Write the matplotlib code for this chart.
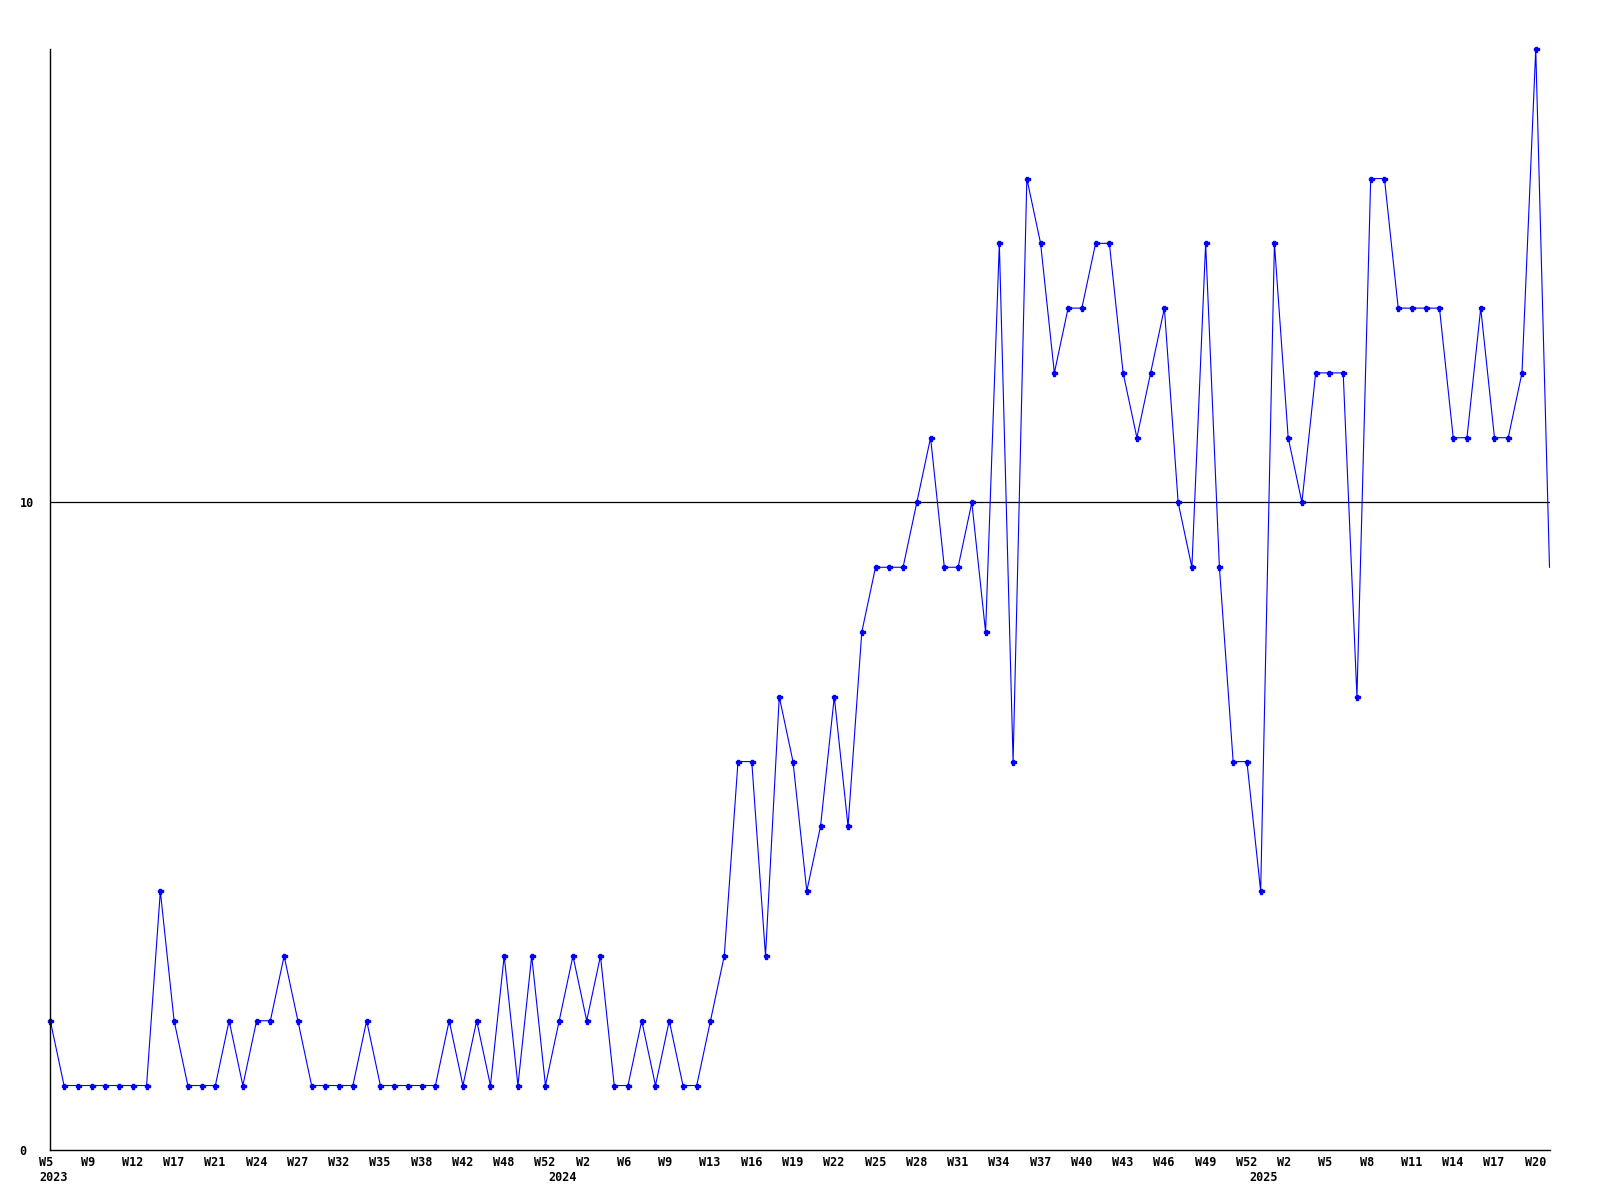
import matplotlib
matplotlib.use("Agg")
import matplotlib.pyplot as plt
from matplotlib.transforms import ScaledTranslation

# weekly counts, one point per week present in the data
values = [2, 1, 1, 1, 1, 1, 1, 1, 4, 2,
          1, 1, 1, 2, 1, 2, 2, 3, 2, 1,
          1, 1, 1, 2, 1, 1, 1, 1, 1, 2,
          1, 2, 1, 3, 1, 3, 1, 2, 3, 2,
          3, 1, 1, 2, 1, 2, 1, 1, 2, 3,
          6, 6, 3, 7, 6, 4, 5, 7, 5, 8,
          9, 9, 9, 10, 11, 9, 9, 10, 8, 14,
          6, 15, 14, 12, 13, 13, 14, 14, 12, 11,
          12, 13, 10, 9, 14, 9, 6, 6, 4, 14,
          11, 10, 12, 12, 12, 7, 15, 15, 13, 13,
          13, 13, 11, 11, 13, 11, 11, 12, 17, 9]

# a label on every third point
week_labels = ["W5", "W9", "W12", "W17", "W21", "W24", "W27", "W32", "W35",
               "W38", "W42", "W48", "W52",
               "W2", "W6", "W9", "W13", "W16", "W19", "W22", "W25", "W28",
               "W31", "W34", "W37", "W40", "W43", "W46", "W49", "W52",
               "W2", "W5", "W8", "W11", "W14", "W17", "W20"]
years = ["2023", "2024", "2025"]
year_start = [0, 37, 88]

ytick_vals = [0, 10]

fig = plt.figure(figsize=(16, 12), dpi=100)
ax = fig.add_axes([50.3 / 1600, 1 - 1150.3 / 1200, (1549.5 - 50.3) / 1600, (1150.3 - 49) / 1200])

x = list(range(len(values)))
ax.plot(x, values, color="#0000ff", linewidth=0.8, marker="P", markersize=3.6,
        markevery=list(range(len(values) - 1)), clip_on=False)

ax.set_xlim(0, len(values) - 1)
ax.set_ylim(0, 17)

for s in ["top", "right"]:
    ax.spines[s].set_visible(False)
for s in ["left", "bottom"]:
    ax.spines[s].set_linewidth(1.0)
    ax.spines[s].set_color("black")

ax.axhline(10, color="black", linewidth=0.9, zorder=0)

font = dict(family="DejaVu Sans Mono", weight="bold", size=8.5)

ax.set_yticks(ytick_vals)
ax.set_yticklabels([str(v) for v in ytick_vals], **font)
ax.tick_params(axis="y", length=0, pad=22)
for lab in ax.get_yticklabels():
    lab.set_ha("left")

ax.set_xticks(x[::3])
ax.set_xticklabels(week_labels, **font)
ax.tick_params(axis="x", length=0, pad=4)
shift = ScaledTranslation(-11 / 100, 0, fig.dpi_scale_trans)
for lab in ax.get_xticklabels():
    lab.set_ha("left")
    lab.set_transform(lab.get_transform() + shift)

for yr, i in zip(years, year_start):
    ax.annotate(yr, xy=(i, 0), xycoords=("data", "axes fraction"),
                xytext=(2.2, -15), textcoords="offset points",
                ha="center", va="top", **font)

fig.savefig("out.png", dpi=100)
